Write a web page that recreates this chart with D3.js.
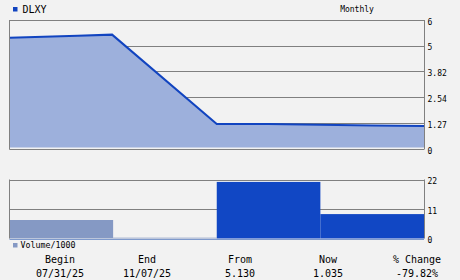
<!DOCTYPE html>
<html>
<head>
<meta charset="utf-8">
<script src="https://cdn.jsdelivr.net/npm/d3@7"></script>
<style>
  body { margin: 0; background: #f2f2f2; }
  svg { display: block; font-family: "DejaVu Sans Mono", monospace; }
</style>
</head>
<body>
<svg id="chart" width="460" height="280"></svg>
<script>
// price path, x in months from start (0..4)
const pricePoints = [
  [0, 5.48], [0.33, 5.53], [0.66, 5.58], [0.99, 5.63],
  [2.0, 1.23], [2.5, 1.23], [3.5, 1.16], [4, 1.13]
]
const priceTicks = [0, 1.27, 2.54, 3.82, 5.09, 6.35]
const priceTickLabels = ["0", "1.27", "2.54", "3.82", "5", "6"]

// volume / 1000 per month
const volumes = [6.9, 0.3, 21.1, 9.1]
const volumeUp = [false, false, true, true]
const volumeTicks = [0, 11, 22]

const statHeads = ["Begin", "End", "From", "Now", "% Change"]
const statValues = ["07/31/25", "11/07/25", "5.130", "1.035", "-79.82%"]

const svg = d3.select("#chart")
const left = 9.5, right = 424

const x = d3.scaleLinear().domain([0, 4]).range([left, right])

// ---- price panel
const yP = d3.scaleLinear().domain([0, 6.35]).range([149, 20])

const grid = svg.append("g")
grid.selectAll("line.pgrid")
  .data(priceTicks)
  .enter().append("line")
    .attr("x1", left).attr("x2", right)
    .attr("y1", d => Math.round(yP(d)) + 0.5)
    .attr("y2", d => Math.round(yP(d)) + 0.5)
    .attr("stroke", "#808080")

svg.append("path")
  .datum(pricePoints)
  .attr("fill", "#9db0dc")
  .attr("d", d3.area()
    .x(d => x(d[0]))
    .y0(yP(0) - 1.5)
    .y1(d => yP(d[1])))

svg.append("path")
  .datum(pricePoints)
  .attr("fill", "none")
  .attr("stroke", "#1144c0")
  .attr("stroke-width", 2)
  .attr("d", d3.line().x(d => x(d[0])).y(d => yP(d[1])))

// box edges
svg.append("line").attr("x1", left).attr("x2", left).attr("y1", yP(6.35)).attr("y2", yP(0) + 0.5).attr("stroke", "#808080")
svg.append("line").attr("x1", right + 0.5).attr("x2", right + 0.5).attr("y1", yP(6.35)).attr("y2", yP(0) + 0.5).attr("stroke", "#808080")

svg.append("g").selectAll("text")
  .data(priceTicks)
  .enter().append("text")
    .attr("x", 427.5)
    .attr("y", d => yP(d) + 2)
    .attr("dominant-baseline", "middle")
    .attr("font-size", 8)
    .attr("fill", "#000")
    .text((d, i) => priceTickLabels[i])

// legend + title
svg.append("rect").attr("x", 13).attr("y", 7).attr("width", 4.5).attr("height", 4.5).attr("fill", "#1144c0")
svg.append("text").attr("x", 22.5).attr("y", 9.5).attr("dominant-baseline", "middle")
  .attr("font-size", 10).text("DLXY")
svg.append("text").attr("x", 357).attr("y", 9).attr("dominant-baseline", "middle")
  .attr("text-anchor", "middle").attr("font-size", 8).text("Monthly")

// ---- volume panel
const yV = d3.scaleLinear().domain([0, 22]).range([238.5, 179.5])

svg.append("g").selectAll("line")
  .data(volumeTicks)
  .enter().append("line")
    .attr("x1", left).attr("x2", right)
    .attr("y1", d => Math.round(yV(d)) + 0.5)
    .attr("y2", d => Math.round(yV(d)) + 0.5)
    .attr("stroke", d => d === 0 ? "#7f9acc" : "#808080")

svg.append("g").selectAll("rect")
  .data(volumes)
  .enter().append("rect")
    .attr("x", (d, i) => x(i))
    .attr("width", (d, i) => x(i + 1) - x(i))
    .attr("y", d => yV(d))
    .attr("height", d => yV(0) - yV(d))
    .attr("fill", (d, i) => volumeUp[i] ? "#1147c4" : "#8599c4")

svg.append("line").attr("x1", left).attr("x2", left).attr("y1", yV(22)).attr("y2", yV(0)).attr("stroke", "#808080")
svg.append("line").attr("x1", right + 0.5).attr("x2", right + 0.5).attr("y1", yV(22)).attr("y2", yV(0)).attr("stroke", "#808080")

svg.append("g").selectAll("text")
  .data(volumeTicks)
  .enter().append("text")
    .attr("x", 427.5)
    .attr("y", d => yV(d) + 2)
    .attr("dominant-baseline", "middle")
    .attr("font-size", 8)
    .text(d => d)

svg.append("rect").attr("x", 13).attr("y", 243).attr("width", 4.5).attr("height", 4.5).attr("fill", "#8599c4")
svg.append("text").attr("x", 20.5).attr("y", 245.5).attr("dominant-baseline", "middle")
  .attr("font-size", 8.3).text("Volume/1000")

// ---- stats row
const cols = [60, 147, 240, 328, 417]
svg.append("g").selectAll("text")
  .data(statHeads)
  .enter().append("text")
    .attr("x", (d, i) => cols[i])
    .attr("y", 263)
    .attr("text-anchor", "middle")
    .attr("font-size", 10)
    .text(d => d)

svg.append("g").selectAll("text")
  .data(statValues)
  .enter().append("text")
    .attr("x", (d, i) => cols[i])
    .attr("y", 277)
    .attr("text-anchor", "middle")
    .attr("font-size", 10)
    .text(d => d)
</script>
</body>
</html>
